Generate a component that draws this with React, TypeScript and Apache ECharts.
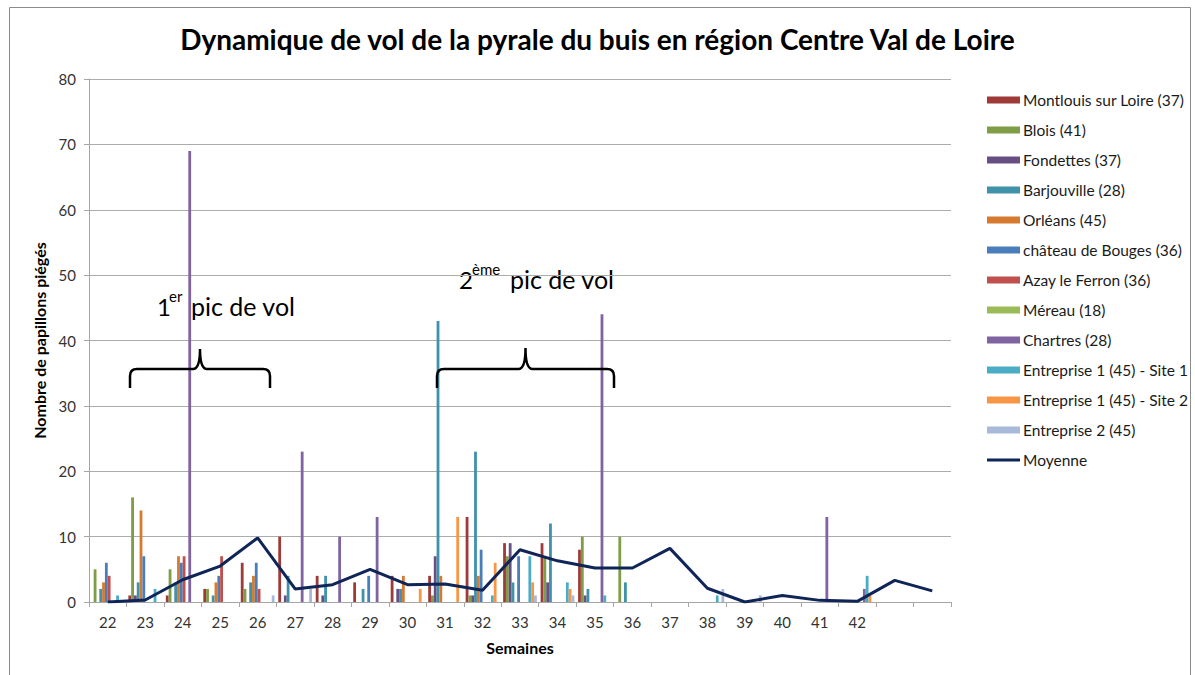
import React, { useEffect, useRef } from "react";
import * as echarts from "echarts";

const weeks = ["22","23","24","25","26","27","28","29","30","31","32","33","34","35","36","37","38","39","40","41","42","",""];

const montlouis = [0,1,1,2,6,10,4,3,4,4,13,9,9,8,0,0,0,0,0,0,0,0,0];
const blois = [5,16,5,2,2,0,0,0,0,1,1,7,7,10,10,0,0,0,0,0,0,0,0];
const fondettes = [0,1,0,0,0,1,1,0,2,7,1,9,3,1,0,0,0,0,0,0,0,0,0];
const barjouville = [2,3,3,1,3,4,4,2,2,43,23,3,12,2,3,0,0,0,0,0,0,0,0];
const orleans = [3,14,7,3,4,0,0,0,4,4,4,0,0,0,0,0,0,0,0,0,0,0,0];
const bouges = [6,7,6,4,6,0,0,4,0,0,8,7,0,0,0,0,0,0,0,0,0,0,0];
const azay = [4,0,7,7,2,0,0,0,0,0,0,0,0,0,0,0,0,0,0,0,0,0,0];
const mereau = [0,0,0,0,0,0,0,0,0,0,0,0,0,0,0,0,0,0,0,0,0,0,0];
const chartres = [0,0,69,0,0,23,10,13,0,0,0,0,0,44,0,0,0,0,0,13,2,0,0];
const site1 = [1,2,0,0,0,0,0,0,0,0,1,7,3,1,0,0,1,0,0,0,4,0,0];
const site2 = [0,0,0,0,0,0,0,0,2,13,6,3,2,0,0,0,0,0,0,0,1,0,0];
const ent2 = [0,0,0,0,1,2,0,0,0,0,0,1,1,0,0,0,2,1,0,0,0,0,0];
const moyenne = [0,0.3,3.4,5.5,9.8,2.0,2.65,5.0,2.65,2.75,1.8,8.0,6.3,5.2,5.2,8.2,2.1,0,1.0,0.25,0.1,3.3,1.7];

const barSeries = [
  { name: "Montlouis sur Loire (37)", data: montlouis, color: "#9E3B38" },
  { name: "Blois (41)", data: blois, color: "#7F9C47" },
  { name: "Fondettes (37)", data: fondettes, color: "#664F83" },
  { name: "Barjouville (28)", data: barjouville, color: "#3F92AA" },
  { name: "Orléans (45)", data: orleans, color: "#D67A30" },
  { name: "château de Bouges (36)", data: bouges, color: "#4A7EBB" },
  { name: "Azay le Ferron (36)", data: azay, color: "#C0504D" },
  { name: "Méreau (18)", data: mereau, color: "#9BBB59" },
  { name: "Chartres (28)", data: chartres, color: "#8064A2" },
  { name: "Entreprise 1 (45) - Site 1", data: site1, color: "#4BACC6" },
  { name: "Entreprise 1 (45) - Site 2", data: site2, color: "#F79646" },
  { name: "Entreprise 2 (45)", data: ent2, color: "#A8B9DA" },
];

const FONT = "Lato";
const NAVY = "#0F2558";

echarts.graphic.registerShape(
  "brace",
  echarts.graphic.extendShape({
    shape: { x1: 0, x2: 0, y: 0, tip: 0, drop: 0 },
    buildPath(ctx: any, s: any) {
      const mid = (s.x1 + s.x2) / 2;
      const r = 7;
      ctx.moveTo(s.x1, s.y + s.drop);
      ctx.lineTo(s.x1, s.y + r);
      ctx.quadraticCurveTo(s.x1, s.y, s.x1 + r, s.y);
      ctx.lineTo(mid - 7, s.y);
      ctx.quadraticCurveTo(mid, s.y, mid, s.y - s.tip);
      ctx.moveTo(mid, s.y - s.tip);
      ctx.quadraticCurveTo(mid, s.y, mid + 7, s.y);
      ctx.lineTo(s.x2 - r, s.y);
      ctx.quadraticCurveTo(s.x2, s.y, s.x2, s.y + r);
      ctx.lineTo(s.x2, s.y + s.drop);
    },
  }) as any
);

export default function App() {
  const ref = useRef<HTMLDivElement>(null);
  useEffect(() => {
    document.body.style.margin = "0";
    const chart = echarts.init(ref.current!, null, { renderer: "svg" });
    const series: any[] = barSeries.map((s) => ({
      name: s.name,
      type: "bar",
      data: s.data,
      itemStyle: { color: s.color },
      barGap: "0%",
      barCategoryGap: "10%",
    }));
    series.push({
      name: "Moyenne",
      type: "line",
      data: moyenne,
      symbol: "none",
      z: 5,
      lineStyle: { color: NAVY, width: 3 },
      itemStyle: { color: NAVY },
    });
    const textStyle = (size: number) => ({
      fill: "#000",
      font: `${size}px ${FONT}`,
      verticalAlign: "middle",
      align: "left",
    });
    chart.setOption({
      animation: false,
      textStyle: { fontFamily: FONT },
      title: {
        text: "Dynamique de vol de la pyrale du buis en région Centre Val de Loire",
        left: "center",
        top: 25,
        padding: 0,
        textStyle: { fontSize: 28, fontWeight: "bold", color: "#000", fontFamily: FONT },
      },
      legend: {
        orient: "vertical",
        left: 987,
        top: 91,
        padding: 0,
        itemWidth: 33,
        itemHeight: 7,
        itemGap: 12,
        textStyle: { fontSize: 15.5, lineHeight: 18, color: "#1a1a1a", fontFamily: FONT, padding: [0, 0, 0, -2] },
        data: [
          ...barSeries.map((s) => ({ name: s.name, icon: "rect" })),
          { name: "Moyenne", icon: "path://M0,0 L33,0 L33,3 L0,3 Z", itemStyle: { color: NAVY } },
        ],
      },
      grid: { left: 89, right: 244, top: 79, bottom: 73, containLabel: false },
      xAxis: {
        type: "category",
        data: weeks,
        name: "Semaines",
        nameLocation: "middle",
        nameGap: 37,
        nameTextStyle: { fontSize: 16, fontWeight: "bold", color: "#000", fontFamily: FONT },
        axisLine: { lineStyle: { color: "#A6A6A6", width: 1 } },
        axisTick: { show: true, length: 5, lineStyle: { color: "#A6A6A6" } },
        axisLabel: { fontSize: 15, color: "#333", margin: 12, interval: 0 },
        splitLine: { show: false },
      },
      yAxis: {
        type: "value",
        min: 0,
        max: 80,
        interval: 10,
        name: "Nombre de papillons piégés",
        nameLocation: "middle",
        nameRotate: 90,
        nameGap: 35,
        nameTextStyle: { fontSize: 16, fontWeight: "bold", color: "#000", fontFamily: FONT },
        axisLine: { show: true, lineStyle: { color: "#A6A6A6", width: 1 } },
        axisTick: { show: true, length: 5, lineStyle: { color: "#A6A6A6" } },
        axisLabel: { fontSize: 15, color: "#333", margin: 13 },
        splitLine: { show: true, lineStyle: { color: "#ACACAC", width: 1 } },
      },
      graphic: [
        {
          type: "rect",
          shape: { x: 9.5, y: 7.5, width: 1181, height: 700 },
          style: { stroke: "#8C8C8C", fill: "none", lineWidth: 1 },
          silent: true,
          z: -10,
        },
        { type: "text", x: 157, y: 306, style: { ...textStyle(24), text: "1" } },
        { type: "text", x: 169, y: 296, style: { ...textStyle(15), text: "er" } },
        { type: "text", x: 191, y: 306, style: { ...textStyle(25), text: "pic de vol" } },
        { type: "text", x: 459, y: 279, style: { ...textStyle(24), text: "2" } },
        { type: "text", x: 472, y: 269, style: { ...textStyle(15), text: "ème" } },
        { type: "text", x: 510, y: 279, style: { ...textStyle(25), text: "pic de vol" } },
        {
          type: "brace",
          shape: { x1: 130, x2: 270, y: 369, tip: 20, drop: 19 },
          style: { stroke: "#000", lineWidth: 2.5, fill: "none" },
          z: 10,
        },
        {
          type: "brace",
          shape: { x1: 437, x2: 614, y: 369, tip: 21, drop: 19 },
          style: { stroke: "#000", lineWidth: 2.5, fill: "none" },
          z: 10,
        },
      ],
      series,
    });
    return () => chart.dispose();
  }, []);
  return (
    <div
      ref={ref}
      style={{ position: "absolute", left: 0, top: 0, width: 1195, height: 675, background: "#fff" }}
    />
  );
}
